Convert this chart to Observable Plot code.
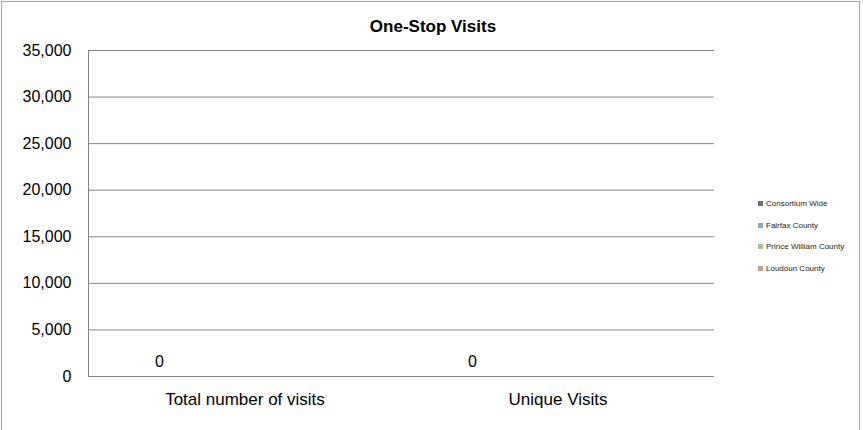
<!DOCTYPE html>
<html>
<head>
<meta charset="utf-8">
<script src="https://cdn.jsdelivr.net/npm/d3@7"></script>
<script src="https://cdn.jsdelivr.net/npm/@observablehq/plot@0.6"></script>
<style>
  html, body { margin: 0; padding: 0; background: #fff; overflow: hidden; }
  #wrap { position: relative; width: 863px; height: 430px; overflow: hidden; font-family: 'Liberation Sans', Arial, sans-serif; }
  #border { position: absolute; left: 1px; top: 1px; width: 859px; height: 460px; border: 1px solid #a6a6a6; box-sizing: border-box; }
  #title { position: absolute; left: 0; top: 17px; width: 866px; text-align: center; font-weight: bold; font-size: 17px; color: #000; line-height: 20px; }
  #chart { position: absolute; left: 0; top: 0; }
  #legend { position: absolute; left: 758px; top: 198px; }
  .item { position: absolute; left: 0; height: 12px; white-space: nowrap; font-size: 8px; color: #222; line-height: 12px; }
  .sw { display: inline-block; width: 5px; height: 5px; margin-right: 3px; vertical-align: 0px; }
</style>
</head>
<body>
<div id="wrap">
  <div id="border"></div>
  <div id="chart"></div>
  <div id="title">One-Stop Visits</div>
  <div id="legend"></div>
</div>
<script>
const categories = ["Total number of visits", "Unique Visits"];
const series = ["Consortium Wide", "Fairfax County", "Prince William County", "Loudoun County"];
const consortiumWide = [0, 0];
const fairfaxCounty = [null, null];
const princeWilliamCounty = [null, null];
const loudounCounty = [null, null];
const colors = ["#6f6f71", "#8eaac3", "#a6bd8c", "#b9a589"];
const yTicks = [0, 5000, 10000, 15000, 20000, 25000, 30000, 35000];

const seriesValues = [consortiumWide, fairfaxCounty, princeWilliamCounty, loudounCounty];
const rows = [];
categories.forEach((c, i) => {
  series.forEach((s, j) => {
    rows.push({category: c, series: s, value: seriesValues[j][i]});
  });
});
const present = rows.filter(d => d.value != null);

const chart = Plot.plot({
  width: 863,
  height: 430,
  marginLeft: 88,
  marginRight: 149,
  marginTop: 50,
  marginBottom: 54,
  style: {fontFamily: "'Liberation Sans', Arial, sans-serif", fontSize: "16px", color: "#000", background: "transparent", overflow: "visible"},
  fx: {domain: categories, padding: 0, label: null},
  x: {domain: series, paddingInner: 0.2, paddingOuter: 0.81, axis: null},
  y: {domain: [0, 35000], axis: null},
  color: {domain: series, range: colors},
  marks: [
    Plot.gridY(yTicks, {stroke: "#868686", strokeOpacity: 1, strokeWidth: 1}),
    Plot.frame({anchor: "left", stroke: "#868686", facetAnchor: "left"}),
    Plot.axisY(yTicks, {tickSize: 0, tickPadding: 17, tickFormat: d3.format(","), label: null, fontSize: 16}),
    Plot.axisFx({anchor: "bottom", tickSize: 0, tickPadding: 16, label: null, fontSize: 17}),
    Plot.barY(present, {fx: "category", x: "series", y: "value", fill: "series"}),
    Plot.text(present.filter(d => d.series === series[0]), {
      fx: "category", x: "series", y: "value",
      text: d => d3.format(",")(d.value), dy: -15, fontSize: 16, fill: "#000"
    })
  ]
});
document.getElementById("chart").appendChild(chart);

const legend = document.getElementById("legend");
series.forEach((s, i) => {
  const item = document.createElement("div");
  item.className = "item";
  item.style.top = (i * 21.7) + "px";
  const sw = document.createElement("span");
  sw.className = "sw";
  sw.style.background = colors[i];
  item.appendChild(sw);
  item.appendChild(document.createTextNode(s));
  legend.appendChild(item);
});
</script>
</body>
</html>
